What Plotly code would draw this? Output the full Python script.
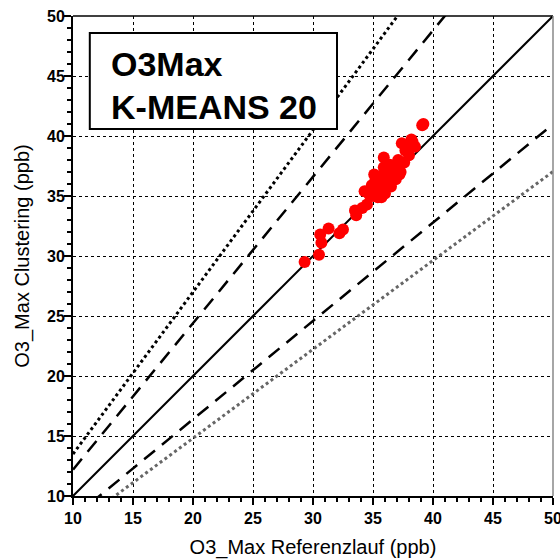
import plotly.graph_objects as go

# Data
ref_x = [29.3, 30.5, 30.7, 30.6, 31.3, 32.2, 32.5, 33.5, 33.6, 34.1, 34.5, 34.3,
         34.9, 35.4, 35.6, 35.2, 35.6, 35.9, 35.9, 36.1, 36.6, 36.7, 37.0, 37.1,
         37.4, 37.7, 38.2, 38.5, 39.2, 39.1, 35.0, 35.3, 35.8, 36.0, 36.3, 36.5,
         36.9, 37.3, 37.6, 38.0, 35.5, 36.2, 34.7, 35.1, 36.8, 37.9, 38.3, 36.4,
         35.7, 37.2]
clu_y = [29.5, 30.1, 31.1, 31.8, 32.3, 31.9, 32.2, 33.8, 33.4, 34.0, 34.3, 35.4,
         35.9, 34.9, 35.5, 36.3, 36.6, 37.4, 38.2, 36.2, 36.6, 37.2, 37.6, 38.0,
         39.4, 38.8, 39.7, 39.1, 41.0, 40.9, 35.0, 35.8, 36.0, 35.2, 36.9, 35.8,
         36.4, 37.0, 37.8, 38.4, 35.3, 37.0, 35.1, 36.8, 37.5, 39.0, 39.5, 37.6,
         34.9, 36.8]

line_x = [10, 50]
slope_solid = 1.0
slopes_dash = [1.22, 1 / 1.22]
slope_dot_up = 1.35
slope_dot_low = 1 / 1.35

x_ticks = [10, 15, 20, 25, 30, 35, 40, 45, 50]
y_ticks = [10, 15, 20, 25, 30, 35, 40, 45, 50]

fig = go.Figure()

fig.add_trace(go.Scatter(x=line_x, y=[slope_dot_low * v for v in line_x], mode="lines",
                         line=dict(color="#666666", width=3, dash="dot"), showlegend=False))
fig.add_trace(go.Scatter(x=line_x, y=[slope_dot_up * v for v in line_x], mode="lines",
                         line=dict(color="black", width=3, dash="dot"), showlegend=False))
for s in slopes_dash:
    fig.add_trace(go.Scatter(x=line_x, y=[s * v for v in line_x], mode="lines",
                             line=dict(color="black", width=2.5, dash="14px,9px"), showlegend=False))
fig.add_trace(go.Scatter(x=line_x, y=[slope_solid * v for v in line_x], mode="lines",
                         line=dict(color="black", width=2), showlegend=False))

fig.add_trace(go.Scatter(x=ref_x, y=clu_y, mode="markers",
                         marker=dict(color="#ff0000", size=12, line=dict(width=0)),
                         showlegend=False))

tickfont = dict(family="Liberation Sans, Arial", size=16, color="black", weight="bold")
titlefont = dict(family="Liberation Sans, Arial", size=20, color="black")

fig.update_xaxes(range=[10, 50], tickvals=x_ticks, ticks="outside", ticklen=7, tickwidth=2,
                 tickcolor="black", showline=True, linewidth=2, linecolor="black",
                 showgrid=True, gridcolor="black", gridwidth=1, griddash="dot",
                 minor=dict(dtick=1, ticks="outside", ticklen=4, tickwidth=2, tickcolor="black", showgrid=False),
                 tickfont=tickfont, zeroline=False, automargin=False, ticklabelstandoff=0,
                 ticklabeloverflow="allow",
                 title=dict(text="O3_Max Referenzlauf (ppb)", font=titlefont, standoff=14))
fig.update_yaxes(range=[10, 50], tickvals=y_ticks, ticks="outside", ticklen=7, tickwidth=2,
                 tickcolor="black", showline=True, linewidth=2, linecolor="black",
                 showgrid=True, gridcolor="black", gridwidth=1, griddash="dot",
                 minor=dict(dtick=1, ticks="outside", ticklen=4, tickwidth=2, tickcolor="black", showgrid=False),
                 tickfont=tickfont, zeroline=False, automargin=False, ticklabelstandoff=-4,
                 ticklabeloverflow="allow",
                 title=dict(text="O3_Max Clustering (ppb)", font=titlefont, standoff=12))

# top and right frame
fig.add_shape(type="line", xref="paper", yref="paper", x0=0, x1=1, y0=1, y1=1,
              line=dict(color="black", width=1.5))
fig.add_shape(type="line", xref="paper", yref="paper", x0=1, x1=1, y0=0, y1=1,
              line=dict(color="#888888", width=1.5))

# Title box
fig.add_shape(type="rect", xref="paper", yref="paper", x0=0.035, x1=0.55, y0=0.7646, y1=0.9646,
              line=dict(color="black", width=2), fillcolor="white")
boxfont = dict(family="Liberation Sans, Arial", size=34, color="black", weight="bold")
fig.add_annotation(xref="paper", yref="paper", x=0.075, y=(480 - 48) / 480, text="O3Max",
                   showarrow=False, xanchor="left", yanchor="middle", font=boxfont)
fig.add_annotation(xref="paper", yref="paper", x=0.075, y=(480 - 91) / 480, text="K-MEANS 20",
                   showarrow=False, xanchor="left", yanchor="middle", font=boxfont)

fig.update_layout(width=560, height=560, margin=dict(l=73, r=7, t=16, b=64),
                  plot_bgcolor="white", paper_bgcolor="white")

fig.write_html("out.html", config={"displayModeBar": False},
               post_script="document.body.style.margin='0';")
